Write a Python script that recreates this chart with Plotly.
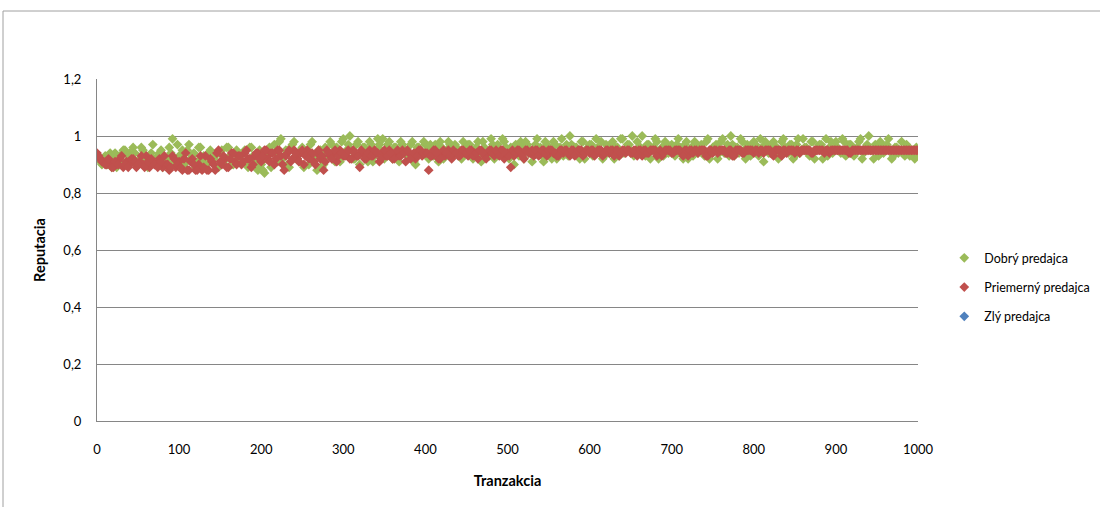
import plotly.graph_objects as go

tranzakcia = list(range(0, 1001, 4))
tranzakcia_b = list(range(2, 1000, 4))

dobry = [
    0.93,0.91,0.92,0.90,0.94,0.92,0.89,0.93,0.95,0.91,0.94,0.96,0.90,
    0.92,0.95,0.90,0.93,0.97,0.91,0.94,0.89,0.92,0.96,0.99,0.90,0.93,
    0.95,0.91,0.97,0.93,0.89,0.96,0.92,0.90,0.94,0.91,0.93,0.89,
    0.95,0.92,0.96,0.90,0.94,0.93,0.91,0.95,0.89,0.96,0.92,0.88,0.90,
    0.87,0.94,0.89,0.97,0.91,0.99,0.93,0.90,0.96,0.98,0.92,0.95,
    0.89,0.93,0.97,0.91,0.88,0.95,0.90,0.94,0.98,0.92,0.96,0.91,0.99,
    0.95,1.00,0.92,0.97,0.90,0.96,0.93,0.98,0.91,0.95,0.97,0.99,
    0.94,0.98,0.92,0.96,0.91,0.97,0.95,0.93,0.98,0.90,0.96,0.94,0.97,
    0.92,0.95,0.97,0.91,0.96,0.94,0.98,0.93,0.97,0.95,0.92,0.96,
    0.97,0.93,0.95,0.98,0.91,0.96,0.94,0.99,0.92,0.97,0.95,0.98,0.93,
    0.96,0.90,0.94,0.98,0.92,0.97,0.95,0.93,0.99,0.96,0.91,0.97,
    0.94,0.98,0.92,0.96,0.93,0.97,1.00,0.94,0.96,0.92,0.98,0.95,0.97,
    0.93,0.99,0.95,0.92,0.97,0.94,0.98,0.96,0.93,0.99,0.95,0.97,
    1.00,0.94,0.96,1.00,0.93,0.97,0.95,0.99,0.92,0.96,0.98,0.94,0.97,
    0.93,0.99,0.95,0.97,0.92,0.96,0.98,0.94,0.97,0.93,0.99,0.95,
    0.96,0.92,0.98,0.94,0.97,1.00,0.93,0.96,0.99,0.95,0.97,0.93,0.98,
    0.95,0.99,0.91,0.97,0.94,0.98,0.96,0.93,0.99,0.95,0.97,0.92,
    0.97,0.94,0.99,0.96,0.93,0.98,0.95,0.97,0.92,0.99,0.96,0.94,0.98,
    0.95,0.99,0.93,0.97,0.96,0.94,0.98,0.92,0.96,1.00,0.95,0.97,
    0.93,0.97,0.95,0.99,0.92,0.96,0.94,0.98,0.93,0.96,0.95,0.92,0.94,
]

dobry_b = [
    0.92,0.90,0.93,0.91,0.89,0.94,0.92,0.90,0.95,0.93,0.91,0.94,0.90,0.96,0.92,0.89,0.94,0.91,0.93,0.95,0.90,0.92,0.94,0.91,0.97,
    0.93,0.90,0.95,0.92,0.94,0.91,0.96,0.93,0.90,0.95,0.92,0.89,0.94,0.91,0.96,0.93,0.90,0.95,0.92,0.94,0.91,0.96,0.93,0.90,0.95,
    0.88,0.92,0.96,0.90,0.94,0.98,0.92,0.95,0.89,0.97,0.93,0.91,0.96,0.94,0.90,0.98,0.92,0.95,0.89,0.96,0.93,0.97,0.91,0.94,0.98,
    0.93,0.97,0.95,0.92,0.98,0.94,0.96,0.91,0.97,0.93,0.99,0.95,0.92,0.97,0.94,0.96,0.92,0.98,0.95,0.93,0.97,0.91,0.96,0.94,0.98,
    0.95,0.97,0.93,0.96,0.98,0.92,0.95,0.97,0.94,0.96,0.93,0.98,0.95,0.97,0.92,0.96,0.94,0.98,0.95,0.93,0.97,0.96,0.94,0.99,0.96,
    0.92,0.95,0.97,0.93,0.96,0.98,0.94,0.91,0.97,0.95,0.93,0.98,0.96,0.92,0.97,0.94,0.99,0.95,0.93,0.97,0.96,0.94,0.98,0.92,0.96,
    0.97,0.94,0.96,0.98,0.93,0.95,0.97,0.92,0.96,0.99,0.94,0.97,0.95,0.93,0.98,0.96,0.94,0.97,0.92,0.96,0.98,0.95,0.93,0.97,0.96,
    0.94,0.97,0.96,0.92,0.98,0.95,0.93,0.97,0.96,0.94,0.98,0.92,0.96,0.97,0.94,0.99,0.95,0.93,0.97,0.96,0.94,0.98,0.92,0.96,0.97,
    0.97,0.93,0.96,0.98,0.94,0.97,0.95,0.92,0.98,0.96,0.94,0.97,0.93,0.99,0.95,0.96,0.94,0.98,0.92,0.96,0.97,0.95,0.93,0.98,0.96,
    0.96,0.94,0.98,0.95,0.97,0.93,0.96,0.99,0.94,0.97,0.95,0.92,0.96,0.98,0.94,0.97,0.95,0.93,0.96,0.95,0.94,0.97,0.93,0.95,0.96,
]

priemerny = [
    0.94,0.92,0.91,0.90,0.91,0.89,0.90,0.92,0.89,0.91,0.90,0.92,0.89,
    0.91,0.90,0.93,0.89,0.91,0.90,0.92,0.89,0.90,0.88,0.93,0.89,0.91,
    0.88,0.94,0.88,0.92,0.88,0.90,0.88,0.93,0.88,0.91,0.88,0.95,
    0.90,0.92,0.89,0.94,0.91,0.93,0.90,0.94,0.92,0.89,0.93,0.94,0.91,
    0.95,0.92,0.94,0.90,0.95,0.93,0.88,0.94,0.91,0.95,0.92,0.94,
    0.90,0.95,0.93,0.91,0.94,0.92,0.88,0.95,0.93,0.94,0.91,0.95,0.93,
    0.94,0.92,0.95,0.93,0.89,0.94,0.92,0.95,0.93,0.94,0.91,0.94,
    0.93,0.95,0.92,0.94,0.93,0.95,0.91,0.94,0.93,0.92,0.95,0.93,0.94,
    0.88,0.93,0.95,0.92,0.94,0.93,0.95,0.92,0.94,0.93,0.95,0.94,
    0.93,0.95,0.94,0.92,0.95,0.93,0.94,0.95,0.93,0.94,0.95,0.92,0.94,
    0.89,0.93,0.95,0.94,0.92,0.95,0.94,0.93,0.95,0.94,0.95,0.93,
    0.95,0.94,0.93,0.95,0.94,0.95,0.93,0.95,0.94,0.95,0.93,0.95,0.94,
    0.95,0.94,0.95,0.93,0.95,0.94,0.95,0.95,0.93,0.95,0.94,0.95,
    0.94,0.95,0.95,0.93,0.95,0.94,0.95,0.95,0.94,0.93,0.95,0.95,0.94,
    0.95,0.95,0.94,0.95,0.93,0.95,0.95,0.94,0.95,0.95,0.93,0.95,
    0.95,0.94,0.95,0.95,0.94,0.95,0.93,0.95,0.95,0.94,0.95,0.95,0.94,
    0.95,0.95,0.94,0.95,0.95,0.93,0.95,0.95,0.95,0.94,0.95,0.95,
    0.95,0.94,0.95,0.95,0.95,0.94,0.95,0.95,0.95,0.95,0.94,0.95,0.95,
    0.95,0.95,0.95,0.94,0.95,0.95,0.95,0.95,0.95,0.95,0.95,0.95,
    0.95,0.95,0.95,0.95,0.95,0.95,0.95,0.95,0.95,0.95,0.95,0.95,0.95,
]

priemerny_b = [
    0.93,0.91,0.90,0.92,0.89,0.91,0.90,0.93,0.90,0.89,0.92,0.91,0.90,0.93,0.89,0.91,0.92,0.90,0.89,0.91,0.93,0.90,0.89,0.92,0.90,
    0.89,0.92,0.88,0.91,0.90,0.88,0.93,0.89,0.88,0.92,0.90,0.94,0.91,0.93,0.89,0.92,0.94,0.90,0.93,0.91,0.95,0.92,0.90,0.94,0.92,
    0.93,0.95,0.91,0.94,0.92,0.95,0.90,0.93,0.95,0.92,0.94,0.91,0.95,0.93,0.92,0.94,0.90,0.95,0.93,0.91,0.94,0.92,0.95,0.93,0.94,
    0.93,0.95,0.92,0.94,0.93,0.95,0.92,0.94,0.93,0.95,0.94,0.92,0.95,0.93,0.94,0.92,0.95,0.93,0.94,0.95,0.92,0.94,0.93,0.95,0.94,
    0.94,0.93,0.95,0.94,0.92,0.95,0.94,0.93,0.95,0.94,0.93,0.95,0.94,0.95,0.93,0.94,0.95,0.94,0.92,0.95,0.94,0.95,0.93,0.95,0.94,
    0.93,0.95,0.94,0.95,0.93,0.95,0.94,0.95,0.95,0.93,0.95,0.94,0.95,0.95,0.94,0.93,0.95,0.95,0.94,0.95,0.93,0.95,0.95,0.94,0.95,
    0.95,0.93,0.95,0.95,0.94,0.95,0.95,0.93,0.95,0.94,0.95,0.95,0.94,0.95,0.93,0.95,0.95,0.94,0.95,0.95,0.93,0.95,0.94,0.95,0.95,
    0.94,0.95,0.95,0.93,0.95,0.95,0.94,0.95,0.95,0.95,0.93,0.95,0.94,0.95,0.95,0.95,0.94,0.95,0.93,0.95,0.95,0.94,0.95,0.95,0.95,
    0.95,0.94,0.95,0.95,0.95,0.94,0.95,0.95,0.93,0.95,0.95,0.95,0.94,0.95,0.95,0.95,0.95,0.94,0.95,0.95,0.95,0.94,0.95,0.95,0.95,
    0.95,0.95,0.95,0.95,0.94,0.95,0.95,0.95,0.95,0.95,0.95,0.95,0.95,0.95,0.95,0.95,0.95,0.95,0.95,0.95,0.95,0.95,0.95,0.95,0.95,
]

zly_x = [None]
zly = [None]

y_ticks = [0, 0.2, 0.4, 0.6, 0.8, 1.0, 1.2]
y_ticktext = ["0", "0,2", "0,4", "0,6", "0,8", "1", "1,2"]
x_ticks = [0, 100, 200, 300, 400, 500, 600, 700, 800, 900, 1000]

FONT = "Lato, 'Open Sans', sans-serif"

fig = go.Figure()
fig.add_trace(go.Scatter(
    x=tranzakcia + tranzakcia_b, y=dobry + dobry_b, mode="markers", name="Dobrý predajca",
    marker=dict(symbol="diamond", size=7.5, color="#9BBB59", line=dict(width=0)),
    legendrank=1, legendgroup="a",
))
fig.add_trace(go.Scatter(
    x=tranzakcia + tranzakcia_b, y=priemerny + priemerny_b, mode="markers", name="Priemerný predajca",
    marker=dict(symbol="diamond", size=7.5, color="#C0504D", line=dict(width=0)),
    legendrank=2, legendgroup="b",
))
fig.add_trace(go.Scatter(
    x=zly_x, y=zly, mode="markers", name="Zlý predajca",
    marker=dict(symbol="diamond", size=7.5, color="#4F81BD", line=dict(width=0)),
    legendrank=3, legendgroup="c",
))

fig.update_layout(
    width=1100, height=507,
    margin=dict(l=97, r=182, t=79, b=86, autoexpand=False),
    paper_bgcolor="white", plot_bgcolor="white",
    font=dict(family=FONT, size=13, color="#000000"),
    showlegend=True,
    legend=dict(
        x=1.032, y=0.52, xanchor="left", yanchor="top",
        font=dict(family=FONT, size=12.5, color="#000000"),
        traceorder="grouped", tracegroupgap=10,
        bgcolor="rgba(0,0,0,0)",
    ),
    xaxis=dict(
        range=[0, 1000], tickvals=x_ticks, showgrid=False,
        showline=True, linecolor="#868686", linewidth=1,
        zeroline=False, ticks="outside", ticklen=0,
        ticklabelstandoff=16,
        tickfont=dict(family=FONT, size=13),
        title=dict(text="<b>Tranzakcia</b>", font=dict(family=FONT, size=14.5), standoff=20),
    ),
    yaxis=dict(
        range=[0, 1.2], tickvals=y_ticks, ticktext=y_ticktext,
        showgrid=True, gridcolor="#868686", gridwidth=1,
        showline=True, linecolor="#868686", linewidth=1,
        zeroline=False, ticks="outside", ticklen=0,
        ticklabelstandoff=12,
        tickfont=dict(family=FONT, size=13),
        title=dict(text="<b>Reputacia</b>", font=dict(family=FONT, size=14.5), standoff=14),
    ),
    shapes=[dict(
        type="rect", xref="paper", yref="paper",
        x0=(3 - 97) / 821, x1=(1103 - 97) / 821,
        y0=(421 - 510) / 342, y1=(421 - 11) / 342,
        line=dict(color="#A0A0A0", width=1), fillcolor="rgba(0,0,0,0)", layer="below",
    )],
)

fig.write_html("out.html")
